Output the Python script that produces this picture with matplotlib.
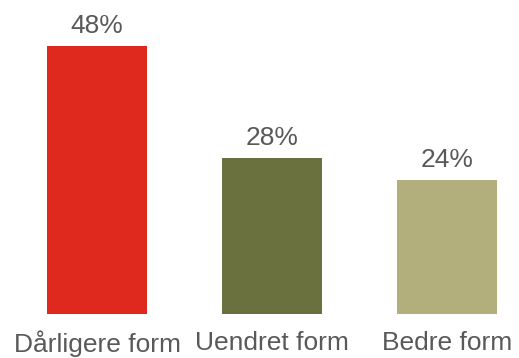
import matplotlib
matplotlib.use("Agg")
import matplotlib.pyplot as plt

categories = ["Dårligere form", "Uendret form", "Bedre form"]
values = [48, 28, 24]
colors = ["#E0291E", "#6A713E", "#B3AF7C"]

plt.rcParams['font.family'] = ['Liberation Sans', 'DejaVu Sans']

fig = plt.figure(figsize=(5.19, 3.58), dpi=100)
ax = fig.add_axes([0, 0.1229, 1, 0.8771])

x = range(len(categories))
ax.bar(x, values, width=0.577, color=colors)

for i, v in zip(x, values):
    ax.annotate(f"{v}%", (i, v), xytext=(0, 9.4), textcoords="offset points",
                ha="center", va="baseline", fontsize=19, color="#595959")

ax.set_xlim(-97 / 175, (519 - 97) / 175)
ax.set_ylim(0, 314 / 5.58)
ax.set_xticks(list(x))
ax.set_xticklabels(categories, fontsize=19, color="#595959")
ax.tick_params(axis="x", length=0, pad=12)
ax.set_yticks([])
for s in ax.spines.values():
    s.set_visible(False)

fig.savefig("out.png", dpi=100)
